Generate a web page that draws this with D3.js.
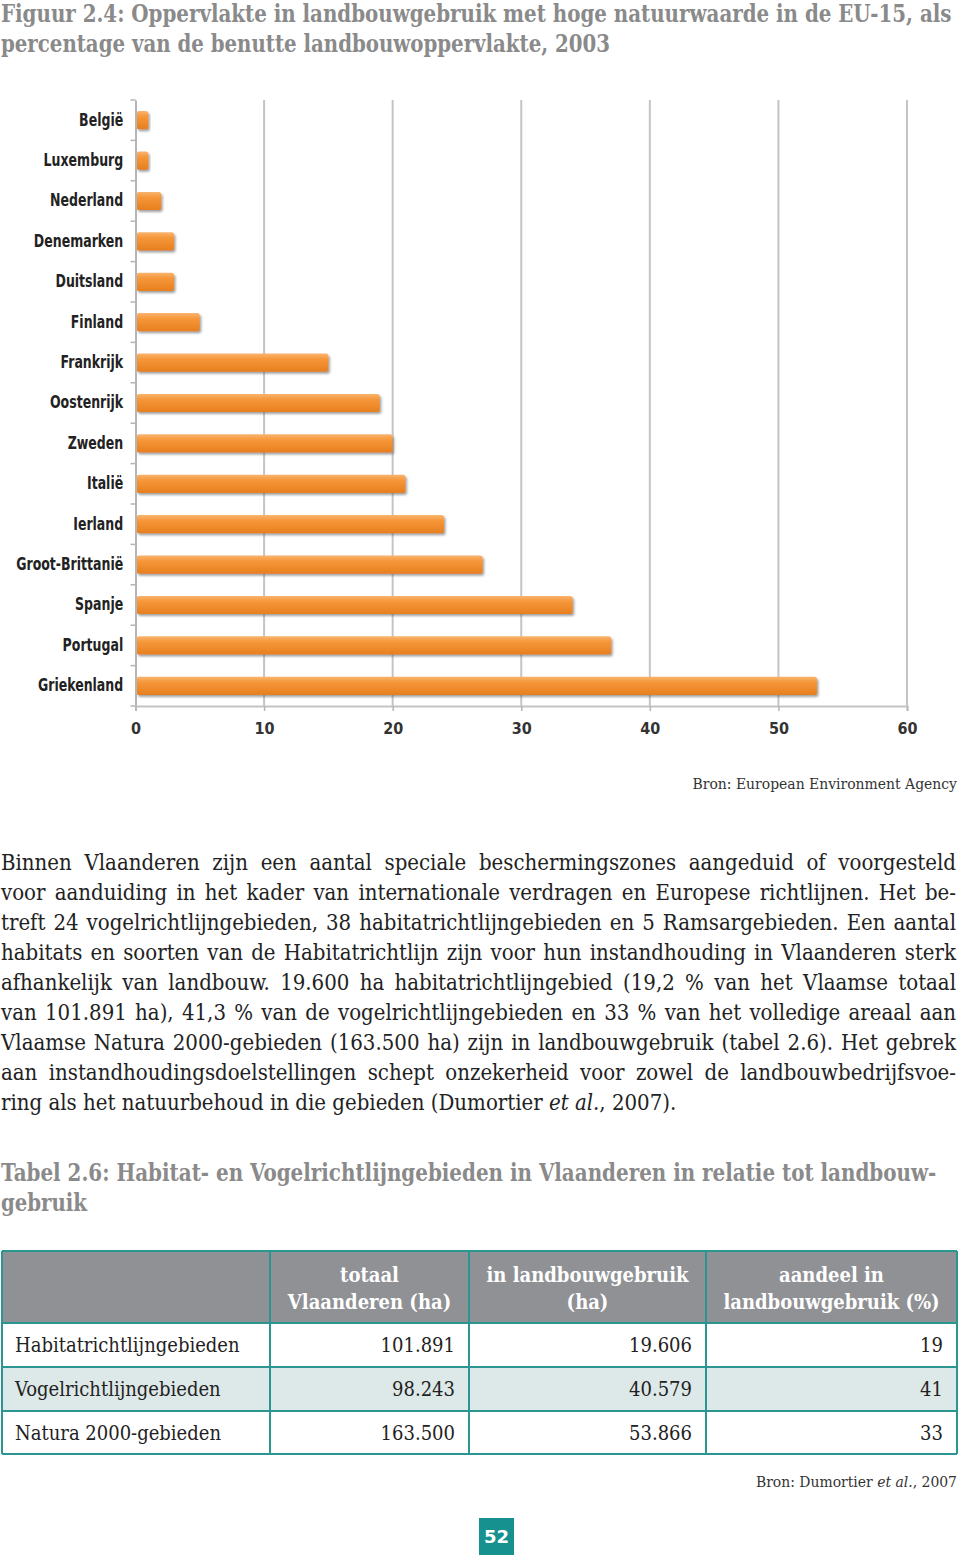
<!DOCTYPE html>
<html>
<head>
<meta charset="utf-8">
<script src="https://cdnjs.cloudflare.com/ajax/libs/d3/7.8.5/d3.min.js"></script>
<style>
  body { margin: 0; background: #fff; }
  svg { display: block; }
</style>
</head>
<body>
<div id="page"></div>
<script>
'use strict';

// chart data: percentage of UAA with high nature value, EU-15, 2003
var countries = ['België', 'Luxemburg', 'Nederland', 'Denemarken', 'Duitsland', 'Finland',
    'Frankrijk', 'Oostenrijk', 'Zweden', 'Italië', 'Ierland', 'Groot-Brittanië',
    'Spanje', 'Portugal', 'Griekenland'];
var shares = [1, 1, 2, 3, 3, 5, 15, 19, 20, 21, 24, 27, 34, 37, 53];
var xTicks = [0, 10, 20, 30, 40, 50, 60];

// table data
var tableHeader = [['', ''], ['totaal', 'Vlaanderen (ha)'], ['in landbouwgebruik', '(ha)'], ['aandeel in', 'landbouwgebruik (%)']];
var areaNames = ['Habitatrichtlijngebieden', 'Vogelrichtlijngebieden', 'Natura 2000-gebieden'];
var areaTotal = ['101.891', '98.243', '163.500'];
var areaFarmed = ['19.606', '40.579', '53.866'];
var areaShare = ['19', '41', '33'];

var titleLines = ['Figuur 2.4: Oppervlakte in landbouwgebruik met hoge natuurwaarde in de EU-15, als',
    'percentage van de benutte landbouwoppervlakte, 2003'];
var tableTitleLines = ['Tabel 2.6: Habitat- en Vogelrichtlijngebieden in Vlaanderen in relatie tot landbouw-',
    'gebruik'];
var bodyLines = [
    'Binnen Vlaanderen zijn een aantal speciale beschermingszones aangeduid of voorgesteld',
    'voor aanduiding in het kader van internationale verdragen en Europese richtlijnen. Het be-',
    'treft 24 vogelrichtlijngebieden, 38 habitatrichtlijngebieden en 5 Ramsargebieden. Een aantal',
    'habitats en soorten van de Habitatrichtlijn zijn voor hun instandhouding in Vlaanderen sterk',
    'afhankelijk van landbouw. 19.600 ha habitatrichtlijngebied (19,2 % van het Vlaamse totaal',
    'van 101.891 ha), 41,3 % van de vogelrichtlijngebieden en 33 % van het volledige areaal aan',
    'Vlaamse Natura 2000-gebieden (163.500 ha) zijn in landbouwgebruik (tabel 2.6). Het gebrek',
    'aan instandhoudingsdoelstellingen schept onzekerheid voor zowel de landbouwbedrijfsvoe-'
];

var W = 960, H = 1563;
var serif = '"DejaVu Serif Condensed", "DejaVu Serif", serif';
var narrow = '"DejaVu Sans Condensed", sans-serif';

var svg = d3.select('#page').append('svg')
    .attr('width', W)
    .attr('height', H);

var defs = svg.append('defs');
var grad = defs.append('linearGradient')
    .attr('id', 'barGrad')
    .attr('x1', 0).attr('y1', 0).attr('x2', 0).attr('y2', 1);
grad.append('stop').attr('offset', '0%').attr('stop-color', '#f9b470');
grad.append('stop').attr('offset', '30%').attr('stop-color', '#f6973a');
grad.append('stop').attr('offset', '100%').attr('stop-color', '#e77f1e');
defs.append('filter').attr('id', 'barShadow')
    .attr('x', '-5%').attr('y', '-30%').attr('width', '120%').attr('height', '180%')
    .append('feDropShadow')
    .attr('dx', 1.5).attr('dy', 2).attr('stdDeviation', 1.2)
    .attr('flood-color', '#555').attr('flood-opacity', 0.55);

//headings: condensed horizontally to the width they take in the print
function fittedLines(lines, widths, y0, lineH) {
    lines.forEach(function (line, i) {
        var t = svg.append('text')
            .attr('x', 0)
            .attr('y', 0)
            .style('font-family', serif)
            .style('font-weight', 'bold')
            .style('font-size', '24px')
            .style('fill', '#8a8a8a')
            .text(line);
        var k = widths[i] / t.node().getComputedTextLength();
        t.attr('transform', 'translate(1,' + (y0 + i * lineH) + ') scale(' + k + ',1)');
    });
}

fittedLines(titleLines, [951, 609], 22, 30);

// --- bar chart ---
var x = d3.scaleLinear().domain([0, 60]).range([135.5, 907]);
var y = d3.scaleBand().domain(countries).range([100, 706])
    .paddingInner(0.55).paddingOuter(0.275);

var chart = svg.append('g');

//vertical gridlines
chart.selectAll('.grid').data(xTicks.slice(1)).enter().append('line')
    .attr('class', 'grid')
    .attr('x1', function (d) { return x(d); })
    .attr('x2', function (d) { return x(d); })
    .attr('y1', y.range()[0])
    .attr('y2', y.range()[1])
    .style('stroke', '#c4c4c4')
    .style('stroke-width', 2);

//bars
chart.selectAll('.bar').data(countries).enter().append('rect')
    .attr('class', 'bar')
    .attr('x', x(0) + 1)
    .attr('y', function (d) { return y(d); })
    .attr('width', function (d, i) { return x(shares[i]) - x(0) - 1; })
    .attr('height', y.bandwidth())
    .attr('rx', 2.5)
    .style('fill', 'url(#barGrad)')
    .attr('filter', 'url(#barShadow)');

//left axis: labels only, ticks between the bands
var yAxis = chart.append('g')
    .attr('transform', 'translate(' + x(0) + ',0)')
    .call(d3.axisLeft(y).tickSize(0).tickPadding(15));
yAxis.select('.domain').style('stroke', '#b5b5b5').style('stroke-width', 2);
yAxis.selectAll('text')
    .attr('transform', 'scale(0.82,1)')
    .style('font-family', narrow)
    .style('font-weight', 'bold')
    .style('font-size', '17px')
    .style('fill', '#222');
chart.selectAll('.ytick').data(d3.range(countries.length + 1)).enter().append('line')
    .attr('class', 'ytick')
    .attr('x1', x(0) - 5)
    .attr('x2', x(0))
    .attr('y1', function (i) { return y.range()[0] + i * y.step(); })
    .attr('y2', function (i) { return y.range()[0] + i * y.step(); })
    .style('stroke', '#b5b5b5')
    .style('stroke-width', 1.5);

//bottom axis
var xAxis = chart.append('g')
    .attr('transform', 'translate(0,' + y.range()[1] + ')')
    .call(d3.axisBottom(x).tickValues(xTicks).tickSize(5).tickPadding(12));
xAxis.select('.domain').style('stroke', '#c4c4c4').style('stroke-width', 2);
xAxis.selectAll('line').style('stroke', '#b5b5b5').style('stroke-width', 1.5);
xAxis.selectAll('text')
    .style('font-family', narrow)
    .style('font-weight', 'bold')
    .style('font-size', '16px')
    .style('fill', '#333');

svg.append('text')
    .attr('x', 957).attr('y', 789)
    .attr('text-anchor', 'end')
    .style('font-family', serif)
    .style('font-size', '15.5px')
    .style('fill', '#333')
    .text('Bron: European Environment Agency');

// --- body text, justified by spreading the word gaps ---
var bodySize = 22;

function justifiedLine(line, yPos, width) {
    var words = line.split(' ');
    var t = svg.append('text')
        .attr('y', yPos)
        .style('font-family', serif)
        .style('font-size', bodySize + 'px')
        .style('fill', '#222');
    var spans = t.selectAll('tspan').data(words).enter().append('tspan')
        .text(function (d) { return d; });
    var widths = [];
    spans.each(function () { widths.push(this.getComputedTextLength()); });
    var gap = (width - d3.sum(widths)) / (words.length - 1);
    var k = 1;
    if (gap < 5) {
        //too long for the column: keep a minimal gap and squeeze the line
        gap = 5;
        k = width / (d3.sum(widths) + gap * (words.length - 1));
    }
    var pos = 0;
    spans.attr('x', function (d, i) {
        var p = pos;
        pos += widths[i] + gap;
        return p;
    });
    t.attr('transform', 'translate(1,0) scale(' + k + ',1)');
}

bodyLines.forEach(function (line, i) {
    justifiedLine(line, 870 + i * 30, 955);
});
var lastLine = svg.append('text')
    .attr('x', 1).attr('y', 870 + bodyLines.length * 30)
    .style('font-family', serif)
    .style('font-size', bodySize + 'px')
    .style('fill', '#222');
lastLine.append('tspan').text('ring als het natuurbehoud in die gebieden (Dumortier ');
lastLine.append('tspan').style('font-style', 'italic').text('et al.');
lastLine.append('tspan').text(', 2007).');

// --- table ---
fittedLines(tableTitleLines, [936, 86], 1181, 30);

var colX = [2, 270, 469, 706, 957];
var rowY = [1251, 1323, 1367, 1411, 1454];
var teal = '#2b9591';
var table = svg.append('g');

table.append('rect')
    .attr('x', colX[0]).attr('y', rowY[0])
    .attr('width', colX[4] - colX[0]).attr('height', rowY[1] - rowY[0])
    .style('fill', '#8f9194');
table.append('rect')
    .attr('x', colX[0]).attr('y', rowY[2])
    .attr('width', colX[4] - colX[0]).attr('height', rowY[3] - rowY[2])
    .style('fill', '#dde8e8');

tableHeader.forEach(function (lines, c) {
    if (c === 0) { return; }
    lines.forEach(function (s, k) {
        table.append('text')
            .attr('x', (colX[c] + colX[c + 1]) / 2)
            .attr('y', 1282 + k * 27)
            .attr('text-anchor', 'middle')
            .style('font-family', serif)
            .style('font-weight', 'bold')
            .style('font-size', '20px')
            .style('fill', '#fff')
            .text(s);
    });
});

var cols = [areaNames, areaTotal, areaFarmed, areaShare];
cols.forEach(function (vals, c) {
    table.selectAll('.c' + c).data(vals).enter().append('text')
        .attr('class', 'c' + c)
        .attr('x', c === 0 ? colX[0] + 13 : colX[c + 1] - 14)
        .attr('y', function (d, r) { return (rowY[r + 1] + rowY[r + 2]) / 2 + 7; })
        .attr('text-anchor', c === 0 ? 'start' : 'end')
        .style('font-family', serif)
        .style('font-size', '20px')
        .style('fill', '#222')
        .text(function (d) { return d; });
});

//grid of teal rules
table.selectAll('.hrule').data(rowY).enter().append('line')
    .attr('x1', colX[0]).attr('x2', colX[4])
    .attr('y1', function (d) { return d; })
    .attr('y2', function (d) { return d; })
    .style('stroke', teal).style('stroke-width', 2);
table.selectAll('.vrule').data(colX).enter().append('line')
    .attr('x1', function (d) { return d; })
    .attr('x2', function (d) { return d; })
    .attr('y1', rowY[0]).attr('y2', rowY[4])
    .style('stroke', teal).style('stroke-width', 2);

var src = svg.append('text')
    .attr('x', 957).attr('y', 1487)
    .attr('text-anchor', 'end')
    .style('font-family', serif)
    .style('font-size', '15.5px')
    .style('fill', '#333');
src.append('tspan').text('Bron: Dumortier ');
src.append('tspan').style('font-style', 'italic').text('et al.');
src.append('tspan').text(', 2007');

//page number
svg.append('rect')
    .attr('x', 479).attr('y', 1518)
    .attr('width', 35).attr('height', 37)
    .style('fill', '#179190');
svg.append('text')
    .attr('x', 496.5).attr('y', 1543)
    .attr('text-anchor', 'middle')
    .style('font-family', '"DejaVu Sans", sans-serif')
    .style('font-weight', 'bold')
    .style('font-size', '18px')
    .style('fill', '#fff')
    .text('52');
</script>
</body>
</html>
